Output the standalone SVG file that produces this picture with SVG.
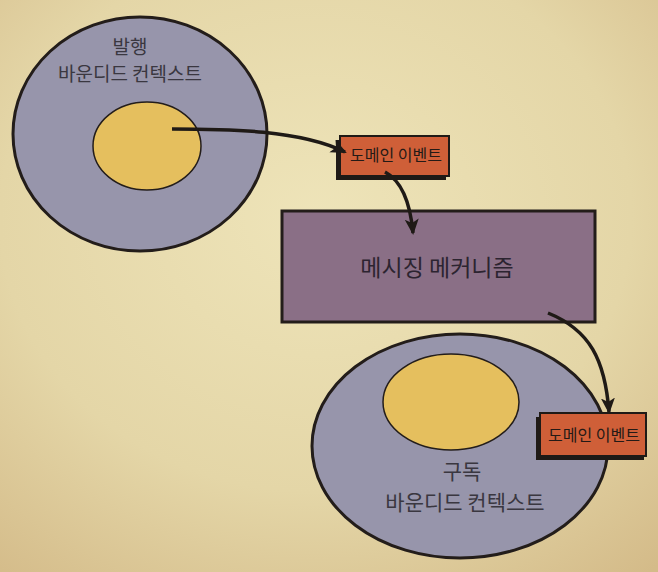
<svg xmlns="http://www.w3.org/2000/svg" width="658" height="572" viewBox="0 0 658 572">
  <defs>
    <radialGradient id="bg" cx="0.48" cy="0.38" r="0.8">
      <stop offset="0" stop-color="#eee4b9"/>
      <stop offset="0.6" stop-color="#e4d6a7"/>
      <stop offset="1" stop-color="#d4bb89"/>
    </radialGradient>
    <marker id="arrow" viewBox="0 0 16 16" refX="14" refY="8" markerWidth="16" markerHeight="16" markerUnits="userSpaceOnUse" orient="auto">
      <path d="M0,1 L16,8 L0,15 L4,8 Z" fill="#1f1a16"/>
    </marker>
    <style>
      .outer { fill: #9795ab; stroke: #231d1a; stroke-width: 3; }
      .inner { fill: #e5bf5e; stroke: #231d1a; stroke-width: 1.5; }
      .evt { fill: #cf5f38; stroke: #1f1a16; stroke-width: 2; }
      .shadow { fill: #1f1a16; }
      .msg { fill: #8a6f86; stroke: #231d1a; stroke-width: 3; }
      .conn { fill: none; stroke: #1f1a16; stroke-width: 3.5; marker-end: url(#arrow); }
      text { font-family: "Noto Sans CJK KR", "Noto Sans", sans-serif; fill: #2a2528; text-anchor: middle; }
      .lbl { font-size: 19px; fill: #3a3740; }
      .lbl2 { font-size: 21px; fill: #3a3740; }
      .evtxt { font-size: 16px; fill: #241a16; }
      .msgtxt { font-size: 23px; fill: #2c2430; }
    </style>
  </defs>
  <rect width="658" height="572" fill="url(#bg)"/>

  <g id="publisher">
    <ellipse class="outer" cx="140" cy="134" rx="127" ry="117"/>
    <ellipse class="inner" cx="147" cy="146" rx="54" ry="44"/>
    <text class="lbl" x="130" y="54">발행</text>
    <text class="lbl" x="130" y="81">바운디드 컨텍스트</text>
  </g>

  <g id="subscriber">
    <ellipse class="outer" cx="460" cy="446" rx="148" ry="112"/>
    <ellipse class="inner" cx="451" cy="402" rx="68" ry="48"/>
    <text class="lbl2" x="462" y="479">구독</text>
    <text class="lbl2" x="465" y="510">바운디드 컨텍스트</text>
  </g>

  <g id="event-top">
    <rect class="shadow" x="336" y="140" width="110" height="40"/>
    <rect class="evt" x="340" y="136" width="109" height="40"/>
    <text class="evtxt" x="396" y="161">도메인 이벤트</text>
  </g>

  <g id="messaging">
    <rect class="msg" x="282" y="211" width="313" height="111"/>
    <text class="msgtxt" x="437" y="276">메시징 메커니즘</text>
  </g>

  <g id="event-bottom">
    <rect class="shadow" x="536" y="417" width="108" height="43"/>
    <rect class="evt" x="540" y="413" width="106" height="43"/>
    <text class="evtxt" x="594" y="441">도메인 이벤트</text>
  </g>

  <g id="connectors">
    <path class="conn" d="M172,129 C230,129 300,130 345,152"/>
    <path class="conn" d="M385,172 C400,180 410,200 413,233"/>
    <path class="conn" d="M548,313 C590,330 605,360 609,412"/>
  </g>
</svg>
